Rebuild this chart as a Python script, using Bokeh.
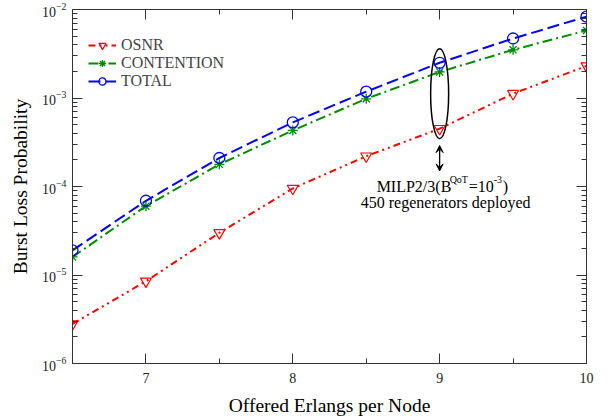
from bokeh.plotting import figure
from bokeh.models import (LinearAxis, LogAxis, FixedTicker, Arrow, VeeHead, Label,
                          Legend, LegendItem, LogTickFormatter)
from bokeh.embed import file_html
from bokeh.resources import INLINE

# ---- data ----
erlangs = [6.5, 7.0, 7.5, 8.0, 8.5, 9.0, 9.5, 10.0]
osnr = [2.8e-6, 8.5e-6, 3.0e-5, 9.5e-5, 2.2e-4, 4.5e-4, 1.12e-3, 2.3e-3]
contention = [1.6e-5, 6.0e-5, 1.78e-4, 4.3e-4, 9.8e-4, 1.97e-3, 3.5e-3, 5.8e-3]
total = [1.9e-5, 6.9e-5, 2.1e-4, 5.3e-4, 1.18e-3, 2.5e-3, 4.7e-3, 8.3e-3]

x_major = [7, 8, 9, 10]
x_minor = [6.5, 7.5, 8.5, 9.5]
y_major = [1e-6, 1e-5, 1e-4, 1e-3, 1e-2]
y_minor = [m * d for d in [1e-6, 1e-5, 1e-4, 1e-3] for m in [2, 3, 4, 5, 6, 7, 8, 9]]

# annotation anchor (data coords)
ann_x = 9.0
ell_y = 1.12e-3
arrow_top = 2.9e-4
arrow_bot = 1.5e-4
line1_y = 1.0e-4
line2_y = 6.6e-5

SERIF = "Liberation Serif"
FH = 354

p = figure(width=599, height=410, x_range=(6.5, 10), y_range=(1e-6, 1e-2),
           y_axis_type="log", frame_width=514, frame_height=FH,
           min_border_left=72, min_border_right=10, min_border_top=9, min_border_bottom=40,
           output_backend="svg", toolbar_location=None)
p.grid.visible = False
p.outline_line_color = "#333333"
p.background_fill_color = "white"

def style_axis(ax):
    ax.major_tick_in = 10
    ax.major_tick_out = 0
    ax.minor_tick_in = 5
    ax.minor_tick_out = 0
    ax.axis_line_color = "#333333"
    ax.major_tick_line_color = "#333333"
    ax.minor_tick_line_color = "#333333"
    ax.major_label_text_font = SERIF
    ax.major_label_text_font_size = "14px"
    ax.major_label_text_color = "#222222"
    ax.axis_label_text_font = SERIF
    ax.axis_label_text_font_size = "19.5px"
    ax.axis_label_text_font_style = "normal"
    ax.axis_label_text_color = "black"

p.xaxis.ticker = FixedTicker(ticks=x_major, minor_ticks=x_minor)
p.yaxis.ticker = FixedTicker(ticks=y_major, minor_ticks=y_minor)
p.yaxis.formatter = LogTickFormatter()
p.xaxis.axis_label = "Offered Erlangs per Node"
p.yaxis.axis_label = "Burst Loss Probability"
style_axis(p.xaxis[0])
style_axis(p.yaxis[0])
p.xaxis.major_label_standoff = 9
p.xaxis.axis_label_standoff = 9
p.yaxis.major_label_standoff = 6
p.yaxis.axis_label_standoff = 8

top = LinearAxis(ticker=FixedTicker(ticks=x_major, minor_ticks=x_minor))
style_axis(top)
top.major_label_text_color = None
top.major_label_text_font_size = "2px"
top.major_label_standoff = 0
p.add_layout(top, "above")
right = LogAxis(ticker=FixedTicker(ticks=y_major, minor_ticks=y_minor))
style_axis(right)
right.major_label_text_color = None
right.major_label_text_font_size = "2px"
right.major_label_standoff = 0
p.add_layout(right, "right")

# ---- series ----
r_osnr_l = p.line(erlangs, osnr, line_color="#ff0000", line_width=2, line_dash="7 4 2 4 2 4")
r_osnr_m = p.scatter(erlangs, osnr, marker="inverted_triangle", size=11, fill_color=None,
                     line_color="#ff0000", line_width=1.2)
r_con_l = p.line(erlangs, contention, line_color="#008a00", line_width=2, line_dash="10 4 2 4")
r_con_m = p.scatter(erlangs, contention, marker="asterisk", size=10,
                    line_color="#008a00", line_width=1.3)
r_tot_l = p.line(erlangs, total, line_color="#0000ff", line_width=2, line_dash="12 5")
r_tot_m = p.scatter(erlangs, total, marker="circle", size=11, fill_color=None,
                    line_color="#0000ff", line_width=1.3)

# ---- annotation ----
p.ellipse(x=[ann_x], y=[ell_y], width=18, height=90, width_units="screen",
          height_units="screen", fill_color=None, line_color="black", line_width=1.5)
p.add_layout(Arrow(x_start=ann_x, y_start=arrow_top, x_end=ann_x, y_end=arrow_bot,
                   line_width=1.3, line_color="black",
                   start=VeeHead(size=7, fill_color="black", line_color="black"),
                   end=VeeHead(size=7, fill_color="black", line_color="black")))

def lab(text, y, xo, yo, size, align="left"):
    p.add_layout(Label(x=ann_x, y=y, x_offset=xo, y_offset=yo, text=text,
                       text_font=SERIF, text_font_size=size, text_align=align,
                       text_baseline="middle", text_color="black"))

lab("MILP2/3(B", line1_y, -63, 0, "16px")
lab("QoT", line1_y, 10, 7, "10px")
lab("=10", line1_y, 29, 0, "16px")
lab("-3", line1_y, 54, 7, "10px")
lab(")", line1_y, 63, 0, "16px")
lab("450 regenerators deployed", line2_y, 6, 0, "16px", "center")

# ---- legend ----
legend = Legend(items=[LegendItem(label="OSNR", renderers=[r_osnr_l, r_osnr_m]),
                       LegendItem(label="CONTENTION", renderers=[r_con_l, r_con_m]),
                       LegendItem(label="TOTAL", renderers=[r_tot_l, r_tot_m])],
                location=(16, FH - 27 - 54), padding=0, margin=0, spacing=0,
                glyph_width=28, glyph_height=18, label_standoff=5,
                label_text_font=SERIF, label_text_font_size="16px",
                label_height=18, border_line_color=None, background_fill_alpha=0)
p.add_layout(legend, "center")

open("out.html", "w").write(file_html(p, INLINE))
